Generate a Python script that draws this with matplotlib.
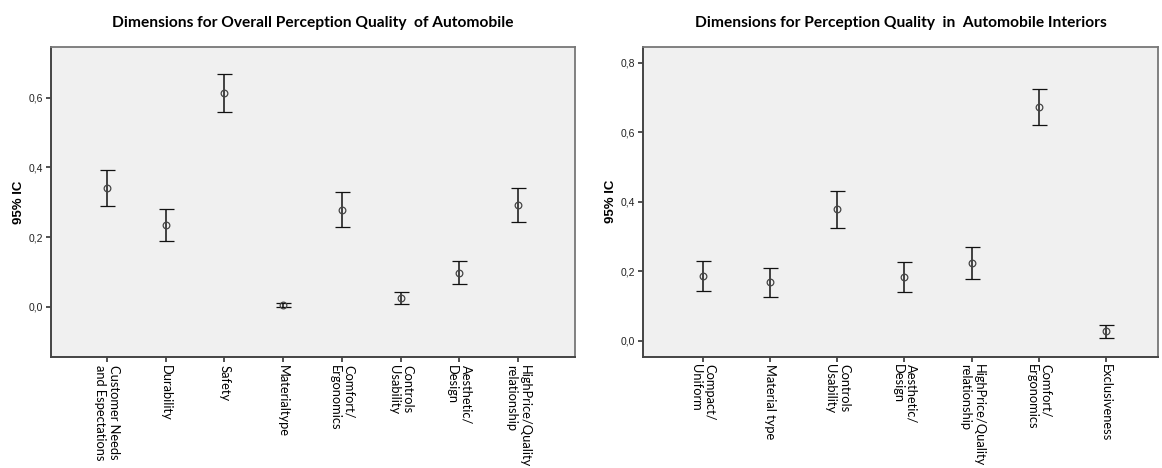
import matplotlib
matplotlib.use("Agg")
import matplotlib.pyplot as plt
from matplotlib.ticker import FuncFormatter

left_title = "Dimensions for Overall Perception Quality  of Automobile"
left_labels = ["Customer Needs\nand Espectations", "Durability", "Safety", "Materialtype",
               "Comfort/\nErgonomics", "Controls\nUsability", "Aesthetic/\nDesign",
               "HighPrice/Quality\nrelationship"]
left_mean = [0.341, 0.234, 0.614, 0.004, 0.279, 0.026, 0.098, 0.292]
left_lower = [0.288, 0.188, 0.560, -0.002, 0.229, 0.008, 0.064, 0.242]
left_upper = [0.393, 0.281, 0.668, 0.010, 0.328, 0.043, 0.130, 0.341]
left_yticks = [0.0, 0.2, 0.4, 0.6]

right_title = "Dimensions for Perception Quality  in  Automobile Interiors"
right_labels = ["Compact/\nUniform", "Material type", "Controls\nUsability", "Aesthetic/\nDesign",
                "HighPrice/Quality\nrelationship", "Comfort/\nErgonomics", "Exclusiveness"]
right_mean = [0.187, 0.168, 0.378, 0.184, 0.225, 0.672, 0.028]
right_lower = [0.144, 0.126, 0.325, 0.141, 0.178, 0.620, 0.009]
right_upper = [0.230, 0.209, 0.432, 0.227, 0.270, 0.723, 0.045]
right_yticks = [0.0, 0.2, 0.4, 0.6, 0.8]

ylabel = "95% IC"

W, H = 1162, 468
fig = plt.figure(figsize=(W / 100, H / 100), dpi=100)

def px_axes(x0, y0, x1, y1):
    return fig.add_axes([x0 / W, 1 - y1 / H, (x1 - x0) / W, (y1 - y0) / H])

comma = FuncFormatter(lambda v, p: f"{v:.1f}".replace(".", ","))

def draw(ax, labels, mean, lower, upper, yticks, xlim, ylim, title):
    x = list(range(len(labels)))
    yerr = [[m - lo for m, lo in zip(mean, lower)], [hi - m for m, hi in zip(mean, upper)]]
    ax.set_facecolor("#f0f0f0")
    ax.errorbar(x, mean, yerr=yerr, fmt="o", mfc="none", mec="#444444", mew=0.9,
                ms=4.8, ecolor="#111111", elinewidth=1.1, capsize=5.4, capthick=1.3)
    ax.set_xlim(*xlim)
    ax.set_ylim(*ylim)
    ax.set_xticks(x)
    ax.set_xticklabels(labels, rotation=-90, ha="center", va="top",
                       family=["Lato", "DejaVu Sans"], fontsize=9.3, multialignment="left")
    ax.set_yticks(yticks)
    ax.yaxis.set_major_formatter(comma)
    ax.tick_params(axis="y", labelfontfamily="Liberation Sans", labelsize=7.5,
                   labelcolor="#222222")
    ax.tick_params(axis="both", direction="out", length=3.5, width=1.2, color="#333333", pad=2)
    for side in ["top", "right"]:
        ax.spines[side].set_color("#777777")
        ax.spines[side].set_linewidth(1.3)
    for side in ["left", "bottom"]:
        ax.spines[side].set_color("#444444")
        ax.spines[side].set_linewidth(1.4)
    ax.set_ylabel(ylabel, family=["Liberation Sans", "DejaVu Sans"], fontweight="bold",
                  fontsize=9.5, labelpad=3)
    ax.set_title(title, family=["Lato", "DejaVu Sans"], fontweight="bold", fontsize=11.2, pad=14)

axL = px_axes(51, 46.7, 575, 357)
draw(axL, left_labels, left_mean, left_lower, left_upper, left_yticks,
     (-0.95, 7.97), (-0.144, 0.746), left_title)

axR = px_axes(643, 46.7, 1158, 356.7)
draw(axR, right_labels, right_mean, right_lower, right_upper, right_yticks,
     (-0.887, 6.77), (-0.046, 0.846), right_title)

fig.savefig("out.png", dpi=100, facecolor="white")
